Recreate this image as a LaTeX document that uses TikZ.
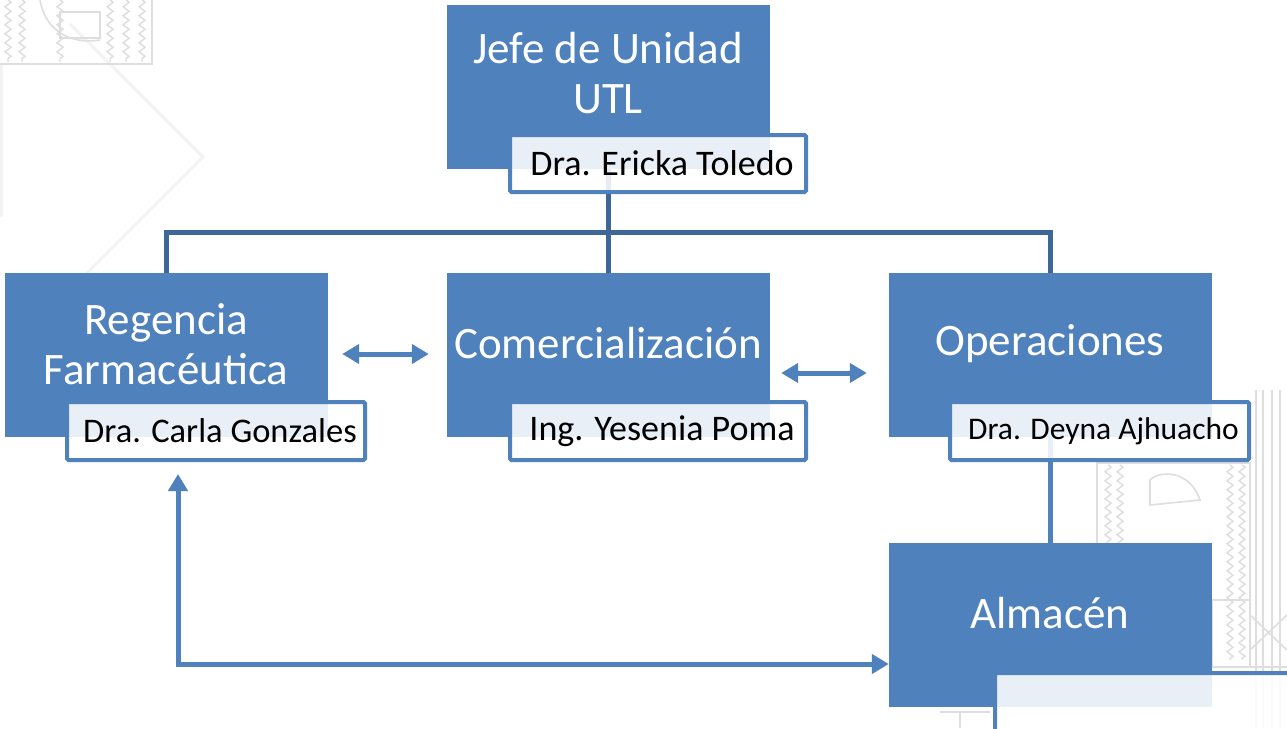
\documentclass[tikz,border=0pt]{standalone}
\usepackage{fontspec}
\setmainfont{Carlito}
\usetikzlibrary{arrows.meta,calc,decorations.pathmorphing}
\definecolor{boxblue}{HTML}{4F81BD}
\definecolor{treeblue}{HTML}{3F6698}
\definecolor{pat}{HTML}{DEDEDE}
\definecolor{patl}{HTML}{F3F3F3}
\tikzset{
  unitbox/.style={fill=boxblue, draw=none, minimum width=323pt, minimum height=164pt, inner sep=0pt},
  lbl/.style={text=white, align=center, font=\fontsize{45}{50}\selectfont, inner sep=0pt},
  namebox/.style={draw=boxblue, line width=4pt, fill=white, fill opacity=0.88, text opacity=1, rounded corners=1.5pt, inner sep=0pt, font=\fontsize{36}{40}\selectfont, text=black},
  tree/.style={draw=treeblue, line width=5pt},
  conn/.style={draw=boxblue, line width=5pt},
  dbl/.style={draw=boxblue, line width=5pt, {Triangle[length=17pt,width=19pt]}-{Triangle[length=17pt,width=19pt]}},
  bgpat/.style={draw=pat, line width=1.6pt},
  bgfaint/.style={draw=patl, line width=3pt},
  zz/.style={draw=pat, line width=1.4pt, decorate, decoration={zigzag, segment length=9pt, amplitude=3pt}}
}
\begin{document}
\begin{tikzpicture}[x=1pt,y=-1pt]
\useasboundingbox (0,0) rectangle (1287,728);
\clip (0,0) rectangle (1287,728);
\fill[white] (0,0) rectangle (1287,728);
% background decoration (top-left)
\draw[bgfaint] (70,24) -- (203,157) -- (70,290);
\draw[bgfaint] (1,65) -- (1,217);
\draw[bgpat] (-2,-2) rectangle (152,64);
\foreach \xx in {8,22,60,110,126,142} {\draw[zz] (\xx,0) -- (\xx,62);}
\draw[bgpat] (40,0) .. controls (45,30) and (70,45) .. (100,40);
\draw[bgpat] (60,12) rectangle (100,38);
% background decoration (bottom-right)
\draw[bgpat] (1097,463) rectangle (1250,667);
\foreach \xx in {1108,1120,1230,1242} {\draw[zz] (\xx,465) -- (\xx,660);}
\foreach \xx in {1256,1263,1272,1280} {\draw[bgpat] (\xx,390) -- (\xx,728);}
\draw[bgpat] (1150,480) .. controls (1160,470) and (1190,470) .. (1200,500) -- (1150,505) -- cycle;
\draw[bgpat] (1250,615) -- (1287,650) (1250,650) -- (1287,615);
\draw[bgpat] (1212,600) rectangle (1250,667);
\draw[bgpat] (1200,667) -- (1287,667);
\draw[bgpat] (940,712) -- (990,712) (960,712) -- (960,728);
% main boxes
\node[unitbox] (jefe) at (608.5,86.5) {};
\node[unitbox] (reg) at (166.5,355) {};
\node[unitbox] (com) at (608.5,355) {};
\node[unitbox] (ops) at (1050.5,355) {};
\node[unitbox] (alm) at (1050.5,625) {};
% labels
\node[lbl] (jefeT) at (608,73) {Jefe de Unidad\\UTL};
\node[lbl] (regT) at (166,344) {Regencia\\Farmacéutica};
\node[lbl] (comT) at (608,343) {Comercialización};
\node[lbl] (opsT) at (1050,344) {Operaciones};
\node[lbl] (almT) at (1050,613) {Almacén};
% tree connectors
\coordinate (bus) at (608.5,232);
\draw[tree] (jefe.south) -- (bus);
\draw[tree] (reg.north) |- (bus) -| (ops.north);
\draw[tree] (bus) -- (com.north);
\draw[conn] (ops.south) -- (alm.north);
% name boxes
\node[namebox, minimum width=296pt, minimum height=57pt] (jefeN) at (658,163.5) {\hspace*{8pt}Dra. Ericka Toledo};
\node[namebox, minimum width=298pt, minimum height=58pt, font=\fontsize{34.5}{38}\selectfont] (regN) at (216,431) {\hspace*{8pt}Dra. Carla Gonzales};
\node[namebox, minimum width=296pt, minimum height=58pt] (comN) at (658,431) {\hspace*{8pt}Ing. Yesenia Poma};
\node[namebox, minimum width=299pt, minimum height=58pt, font=\fontsize{31.5}{36}\selectfont] (opsN) at (1099.5,431) {\hspace*{8pt}Dra. Deyna Ajhuacho};
\node[namebox, minimum width=305pt, minimum height=62pt] (almN) at (1147.5,704) {};
% arrows
\draw[dbl] ($(reg.east)+(14,-1)$) -- ($(com.west)+(-18,-1)$);
\draw[dbl] ($(com.east)+(11,18)$) -- ($(ops.west)+(-22,18)$);
\draw[dbl] ($(regN.south west)+(113,12)$) |- ($(alm.west)+(0,39)$);
\end{tikzpicture}
\end{document}
